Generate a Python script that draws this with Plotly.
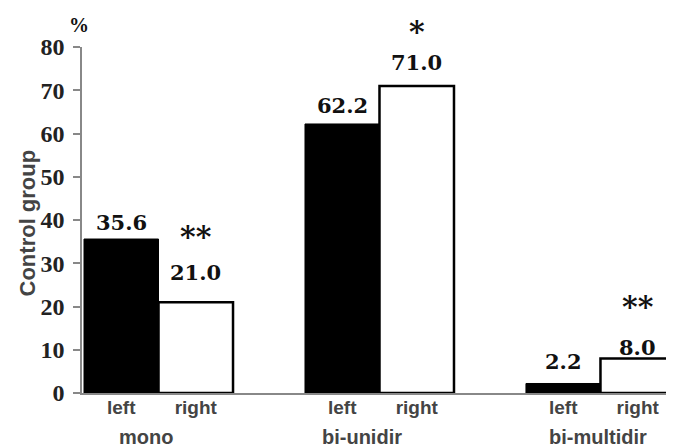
import plotly.graph_objects as go

# ---- data ----
groups = ["mono", "bi-unidir", "bi-multidir"]
sides = ["left", "right"]
left_values = [35.6, 62.2, 2.2]
right_values = [21.0, 71.0, 8.0]
right_marks = ["**", "*", "**"]
y_ticks = [0, 10, 20, 30, 40, 50, 60, 70, 80]
y_title = "Control group"
unit_label = "%"

# ---- layout constants ----
S = 2.966          # spacing between groups (in bar widths)
BW = 1.0           # bar width
left_x = [g * S for g in range(len(groups))]
right_x = [g * S + BW for g in range(len(groups))]

value_font = dict(family="DejaVu Serif", size=21, color="#111111")
star_font = dict(family="DejaVu Serif", size=30, color="#111111")
cat_font = dict(family="Liberation Sans", size=20, color="#444444")

fig = go.Figure()
fig.add_trace(go.Bar(
    x=left_x, y=left_values, width=BW,
    marker=dict(color="black", line=dict(color="black", width=1)),
    showlegend=False, hoverinfo="skip",
))
fig.add_trace(go.Bar(
    x=right_x, y=right_values, width=BW,
    marker=dict(color="white", line=dict(color="black", width=2.5)),
    showlegend=False, hoverinfo="skip",
))

ann = []
left_dy = [17, 18, 22]
right_dy = [30, 23, 11]
star_dy = [66, 54, 52]
for i in range(len(groups)):
    ann.append(dict(x=left_x[i], y=left_values[i], xref="x", yref="y",
                    text="<b>%.1f</b>" % left_values[i], showarrow=False,
                    yanchor="middle", yshift=left_dy[i], font=value_font))
    ann.append(dict(x=right_x[i], y=right_values[i], xref="x", yref="y",
                    text="<b>%.1f</b>" % right_values[i], showarrow=False,
                    yanchor="middle", yshift=right_dy[i], font=value_font))
    ann.append(dict(x=right_x[i], y=right_values[i], xref="x", yref="y",
                    text="<b>%s</b>" % right_marks[i], showarrow=False,
                    yanchor="middle", yshift=star_dy[i], font=star_font))

group_dx = [-13, -17, -2]
for i, g in enumerate(groups):
    ann.append(dict(x=(left_x[i] + right_x[i]) / 2, y=0, xref="x", yref="paper",
                    text="<b>%s</b>" % g, showarrow=False, yanchor="middle",
                    yshift=-44, xshift=group_dx[i], font=cat_font))

ann.append(dict(x=0, y=0.49, xref="paper", yref="paper", text="<b>%s</b>" % y_title,
                textangle=-90, showarrow=False, xanchor="center", yanchor="middle",
                xshift=-55, font=dict(family="Liberation Sans", size=22, color="#444444")))
ann.append(dict(x=0, y=1, xref="paper", yref="paper", text="<b>%s</b>" % unit_label,
                showarrow=False, xanchor="center", yanchor="middle", xshift=-3, yshift=22,
                font=dict(family="Liberation Serif", size=20, color="#111111")))

# the page body has an 8px margin, so the figure is sized to fit the window
fig.update_layout(
    width=666, height=440,
    margin=dict(l=74, r=0, t=39, b=55),
    paper_bgcolor="white", plot_bgcolor="white",
    barmode="overlay",
    annotations=ann,
    xaxis=dict(
        range=[-0.527, 7.419],
        tickvals=left_x + right_x,
        ticktext=["<b>%s</b>" % t for t in [sides[0]] * len(groups) + [sides[1]] * len(groups)],
        tickfont=dict(family="Liberation Sans", size=19, color="#444444"),
        showgrid=False, zeroline=False,
        showline=True, linecolor="#888888", linewidth=1.5,
        ticks="", ticklabelstandoff=-4,
    ),
    yaxis=dict(
        range=[0, 80], tickvals=y_ticks,
        ticktext=["<b>%d</b>" % v for v in y_ticks],
        tickfont=dict(family="Liberation Serif", size=24, color="#222222"),
        showgrid=False, zeroline=False,
        showline=True, linecolor="#888888", linewidth=1.5,
        ticks="outside", ticklen=7, tickcolor="#888888", tickwidth=1.5,
        ticklabelstandoff=4,
    ),
)

fig.write_html("out.html")
